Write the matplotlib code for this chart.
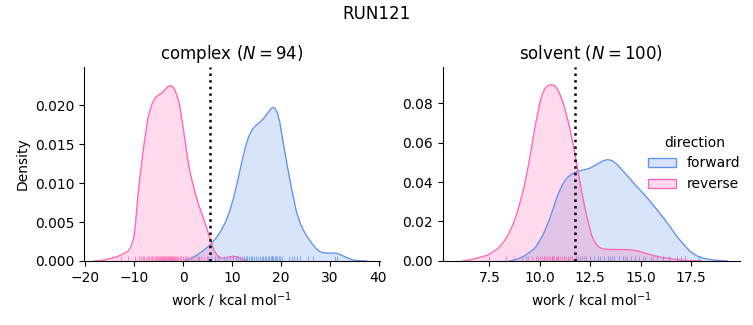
import matplotlib.pyplot as plt
from matplotlib.patches import Patch

# densities (work in kcal/mol)
complex_rev_x = [-18.2, -16.2, -13.5, -11.7, -11.2, -10.7, -10.3, -10.0, -9.7, -9.4, -9.1, -8.7, -8.35,
                 -8.0, -7.6, -7.2, -6.8, -6.3, -5.9, -5.6, -5.0, -4.25, -3.5, -3.1, -2.7, -2.3, -1.86,
                 -1.4, -0.84, -0.5, -0.16, 0.18, 0.53, 0.95, 1.41, 2.0, 2.58, 3.2, 3.93, 4.45, 4.95,
                 5.3, 5.64, 6.0, 6.3, 6.8, 7.3, 7.8, 8.4, 9.3, 10.2, 11.2, 12.2, 13.2]
complex_rev_y = [0.0, 0.0001, 0.00055, 0.00107, 0.0013, 0.0018, 0.0025, 0.0033, 0.0050, 0.0072, 0.0093,
                 0.0114, 0.0132, 0.0149, 0.0167, 0.0183, 0.0193, 0.0202, 0.0207, 0.0210, 0.0213,
                 0.0216, 0.0221, 0.0224, 0.02248, 0.02245, 0.0222, 0.0215, 0.0204, 0.0192, 0.0179,
                 0.0164, 0.0149, 0.0131, 0.0114, 0.0099, 0.0085, 0.0072, 0.0059, 0.0049, 0.0040,
                 0.0033, 0.0027, 0.0020, 0.0014, 0.0009, 0.00055, 0.0004, 0.0003, 0.0005, 0.0006,
                 0.0005, 0.0002, 0.0]
complex_fwd_x = [0.2, 1.5, 2.9, 4.3, 5.6, 6.7, 7.7, 8.7, 9.6, 10.3, 11.0, 11.6, 12.2, 12.8, 13.4, 14.1,
                 14.9, 15.7, 16.5, 17.2, 17.8, 18.3, 18.8, 19.3, 19.8, 20.2, 20.6, 21.3, 22.2, 23.2,
                 24.0, 24.6, 25.4, 26.3, 27.2, 28.0, 28.8, 29.7, 30.6, 31.4, 32.2, 33.1, 34.0, 34.8,
                 36.0, 37.5]
complex_fwd_y = [0.0, 0.0003, 0.00077, 0.0014, 0.0021, 0.0029, 0.0038, 0.0050, 0.0065, 0.0080, 0.0098,
                 0.0115, 0.0132, 0.0147, 0.0159, 0.0168, 0.0174, 0.0178, 0.0183, 0.0189, 0.0194,
                 0.0197, 0.0196, 0.0190, 0.0178, 0.0163, 0.0148, 0.0123, 0.0093, 0.0063, 0.0048,
                 0.0040, 0.0031, 0.0023, 0.0016, 0.0012, 0.00105, 0.0010, 0.00102, 0.0010, 0.0008,
                 0.00055, 0.0003, 0.00013, 0.00003, 0.0]

solvent_rev_x = [6.2, 6.5, 6.86, 7.44, 7.93, 8.2, 8.43, 8.65, 8.84, 9.0, 9.17, 9.32, 9.47, 9.62, 9.75,
                 9.88, 10.0, 10.12, 10.25, 10.4, 10.55, 10.7, 10.83, 10.95, 11.07, 11.2, 11.32, 11.45,
                 11.57, 11.7, 11.82, 11.95, 12.07, 12.2, 12.31, 12.44, 12.56, 12.7, 12.85, 13.0, 13.2,
                 13.5, 14.0, 14.4, 14.8, 15.1, 15.4, 15.7, 15.97, 16.3, 16.6, 17.0, 17.3, 18.0]
solvent_rev_y = [0.0, 0.0005, 0.0014, 0.003, 0.0064, 0.0095, 0.0132, 0.0180, 0.0233, 0.0290, 0.0352,
                 0.0425, 0.0504, 0.0590, 0.0673, 0.0740, 0.0800, 0.0843, 0.0873, 0.0888, 0.0893,
                 0.0889, 0.0877, 0.0855, 0.0826, 0.0786, 0.0741, 0.0688, 0.0631, 0.0565, 0.0496,
                 0.0423, 0.0352, 0.0287, 0.0233, 0.0180, 0.0132, 0.0100, 0.0078, 0.0066, 0.0060,
                 0.0058, 0.0058, 0.0057, 0.0052, 0.0043, 0.0034, 0.0026, 0.0019, 0.0014, 0.0010,
                 0.0005, 0.0002, 0.0]
solvent_fwd_x = [8.5, 8.85, 9.17, 9.45, 9.75, 9.95, 10.16, 10.33, 10.5, 10.67, 10.83, 11.0, 11.16, 11.36,
                 11.57, 11.78, 11.99, 12.25, 12.48, 12.7, 12.95, 13.15, 13.33, 13.5, 13.65, 13.9,
                 14.15, 14.5, 14.8, 15.15, 15.48, 15.8, 16.14, 16.5, 16.8, 17.15, 17.46, 17.8, 18.12,
                 18.5, 18.8, 19.3]
solvent_fwd_y = [0.0, 0.0008, 0.0022, 0.0040, 0.0064, 0.0095, 0.0132, 0.0173, 0.0217, 0.0268, 0.0318,
                 0.0360, 0.0394, 0.0422, 0.0440, 0.0450, 0.0457, 0.0463, 0.0470, 0.0482, 0.0497,
                 0.0508, 0.0513, 0.0511, 0.0504, 0.0482, 0.0453, 0.0413, 0.0377, 0.0340, 0.0301,
                 0.0260, 0.0217, 0.0167, 0.0123, 0.0082, 0.0047, 0.0025, 0.0014, 0.0006, 0.0003, 0.0]

# rug samples
complex_rev_rug = [-12.7, -11.3, -9.8, -9.1, -8.6, -8.2, -7.9, -7.5, -7.2, -6.9, -6.6, -6.3, -6.1, -5.8,
                   -5.6, -5.4, -5.2, -5.0, -4.8, -4.6, -4.4, -4.2, -4.0, -3.8, -3.6, -3.4, -3.3, -3.1,
                   -2.9, -2.8, -2.6, -2.5, -2.3, -2.2, -2.0, -1.8, -1.6, -1.4, -1.2, -1.0, -0.7, -0.4,
                   -0.1, 0.3, 0.7, 1.1, 1.6, 2.0, 2.6, 3.1, 3.7, 4.3, 5.0, 5.8, 6.9, 10.3, 11.6]
complex_fwd_rug = [3.2, 5.1, 6.6, 7.4, 8.3, 9.0, 9.6, 10.2, 10.8, 11.3, 12.0, 12.4, 12.8, 13.1, 13.5,
                   13.9, 14.2, 14.6, 15.0, 15.4, 15.8, 16.1, 16.4, 16.7, 17.0, 17.3, 17.6, 17.9, 18.1,
                   18.3, 18.5, 18.8, 19.0, 19.3, 19.6, 19.9, 20.3, 21.7, 22.3, 22.8, 23.4, 23.9, 25.5,
                   26.6, 31.1, 31.5]
solvent_rev_rug = [7.5, 8.3, 8.7, 9.1, 9.4, 9.6, 9.8, 9.9, 10.0, 10.1, 10.2, 10.3, 10.35, 10.45, 10.5,
                   10.6, 10.65, 10.7, 10.8, 10.85, 10.9, 11.0, 11.1, 11.2, 11.3, 11.4, 11.5, 11.6, 11.8,
                   12.0, 12.2, 12.5, 13.6, 14.2, 14.7, 15.1, 15.6, 16.4, 17.0]
solvent_fwd_rug = [9.3, 10.2, 10.6, 10.9, 11.2, 11.4, 11.6, 11.8, 11.9, 12.1, 12.3, 12.5, 12.7, 12.9,
                   13.0, 13.2, 13.4, 13.5, 13.7, 13.9, 14.1, 14.3, 14.5, 14.7, 14.9, 15.2, 15.5, 15.8,
                   16.1, 16.4, 16.8, 17.2, 17.9]

phases = ['complex', 'solvent']
n_samples = [94, 100]
dg_lines = [5.5, 11.75]

fwd_color = '#6495ED'
rev_color = '#FF69B4'

fig = plt.figure(figsize=(7.53, 3.25), dpi=100)
ax1 = fig.add_axes([0.112, 0.197, 0.392, 0.597])
ax2 = fig.add_axes([0.588, 0.197, 0.395, 0.597])

panels = [
    (ax1, complex_fwd_x, complex_fwd_y, complex_rev_x, complex_rev_y, complex_fwd_rug, complex_rev_rug),
    (ax2, solvent_fwd_x, solvent_fwd_y, solvent_rev_x, solvent_rev_y, solvent_fwd_rug, solvent_rev_rug),
]

for i, (ax, fx, fy, rx, ry, frug, rrug) in enumerate(panels):
    ax.fill_between(fx, fy, color=fwd_color, alpha=0.25, lw=0)
    ax.plot(fx, fy, color=fwd_color, lw=1.0)
    ax.fill_between(rx, ry, color=rev_color, alpha=0.25, lw=0)
    ax.plot(rx, ry, color=rev_color, lw=1.0)
    ax.vlines(frug, 0, 0.025, transform=ax.get_xaxis_transform(), color=fwd_color, lw=0.8, alpha=0.7)
    ax.vlines(rrug, 0, 0.025, transform=ax.get_xaxis_transform(), color=rev_color, lw=0.8, alpha=0.7)
    ax.axvline(dg_lines[i], color='black', ls=':', lw=1.8)
    ax.set_title(f'{phases[i]} ($N = {n_samples[i]}$)', fontsize=12)
    ax.set_xlabel('work / kcal mol$^{-1}$')
    ax.spines['top'].set_visible(False)
    ax.spines['right'].set_visible(False)

ax1.set_xlim(-20.2, 40.2)
ax1.set_ylim(0, 0.0249)
ax1.set_xticks([-20, -10, 0, 10, 20, 30, 40])
ax1.set_yticks([0, 0.005, 0.01, 0.015, 0.02])
ax1.set_yticklabels(['0.000', '0.005', '0.010', '0.015', '0.020'])
ax1.set_ylabel('Density')

ax2.set_xlim(5.19, 19.93)
ax2.set_ylim(0, 0.0983)
ax2.set_xticks([7.5, 10.0, 12.5, 15.0, 17.5])
ax2.set_yticks([0, 0.02, 0.04, 0.06, 0.08])
ax2.set_yticklabels(['0.00', '0.02', '0.04', '0.06', '0.08'])

handles = [Patch(facecolor=(0.392, 0.584, 0.929, 0.25), edgecolor=fwd_color),
           Patch(facecolor=(1.0, 0.412, 0.706, 0.25), edgecolor=rev_color)]
fig.legend(handles, ['forward', 'reverse'], title='direction', frameon=False,
           loc='center left', bbox_to_anchor=(0.844, 0.497), fontsize=10, title_fontsize=10)

fig.suptitle('RUN121', fontsize=12, y=0.985)

fig.savefig('out.png', dpi=100)
